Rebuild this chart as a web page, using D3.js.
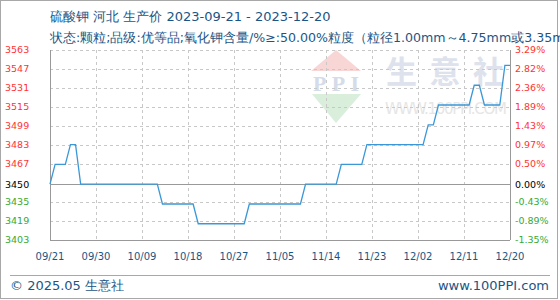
<!DOCTYPE html>
<html>
<head>
<meta charset="utf-8">
<script src="https://cdn.jsdelivr.net/npm/d3@7"></script>
<style>
    body { margin: 0; background: #fff; }
    .chart text { font-family: "DejaVu Sans", sans-serif; }
</style>
</head>
<body>
<div class="chart"></div>
<script>
// Chart data
const TITLE = "硫酸钾 河北 生产价 2023-09-21 - 2023-12-20";
const SUBTITLE = "状态:颗粒;品级:优等品;氧化钾含量/%≥:50.00%粒度（粒径1.00mm～4.75mm或3.35mm～5.60mm）≥90%";
const START_DATE = "2023-09-21";
const BASE_PRICE = 3450;

// one value per day, 09/21 .. 12/20
const prices = [
    3450, 3466.67, 3466.67, 3466.67, 3483.33, 3483.33, 3450, 3450, 3450, 3450,
    3450, 3450, 3450, 3450, 3450, 3450, 3450, 3450, 3450, 3450,
    3450, 3450, 3433.33, 3433.33, 3433.33, 3433.33, 3433.33, 3433.33, 3433.33, 3416.67,
    3416.67, 3416.67, 3416.67, 3416.67, 3416.67, 3416.67, 3416.67, 3416.67, 3416.67, 3433.33,
    3433.33, 3433.33, 3433.33, 3433.33, 3433.33, 3433.33, 3433.33, 3433.33, 3433.33, 3433.33,
    3450, 3450, 3450, 3450, 3450, 3450, 3450, 3466.67, 3466.67, 3466.67,
    3466.67, 3466.67, 3483.33, 3483.33, 3483.33, 3483.33, 3483.33, 3483.33, 3483.33, 3483.33,
    3483.33, 3483.33, 3483.33, 3483.33, 3500, 3500, 3516.67, 3516.67, 3516.67, 3516.67,
    3516.67, 3516.67, 3516.67, 3533.33, 3533.33, 3516.67, 3516.67, 3516.67, 3516.67, 3550,
    3550
];

const xTickLabels = ["09/21", "09/30", "10/09", "10/18", "10/27", "11/05", "11/14", "11/23", "12/02", "12/11", "12/20"];
const priceTicks = [3403, 3419, 3435, 3450, 3467, 3483, 3499, 3515, 3531, 3547, 3563];
const pctTicks = ["-1.35%", "-0.89%", "-0.43%", "0.00%", "0.50%", "0.97%", "1.43%", "1.89%", "2.36%", "2.82%", "3.29%"];

// Constants
const WIDTH = 560;
const HEIGHT = 300;
const PLOT = { left: 50, right: 510, top: 50, bottom: 240 };
const RED = "#ff3333";
const GREEN = "#33aa33";
const BLUE_TEXT = "#1b5585";

const parseDay = d3.timeParse("%Y-%m-%d");
const parseTick = d3.timeParse("%Y/%m/%d");
const start = parseDay(START_DATE);
const series = prices.map((v, i) => ({ date: d3.timeDay.offset(start, i), value: v }));
const tickDates = xTickLabels.map(l => parseTick("2023/" + l));

const svg = d3.select(".chart")
    .append("svg")
        .attr("width", WIDTH)
        .attr("height", HEIGHT);

// Scales
const x = d3.scaleTime()
    .domain(d3.extent(series, d => d.date))
    .range([PLOT.left, PLOT.right]);
const y = d3.scaleLinear()
    .domain([priceTicks[0], priceTicks[priceTicks.length - 1]])
    .range([PLOT.bottom, PLOT.top]);

const labelColor = v => v > BASE_PRICE ? RED : (v < BASE_PRICE ? GREEN : "#000");

// Outer frame
svg.append("rect")
    .attr("x", 0.5).attr("y", 0.5)
    .attr("width", 557).attr("height", 298)
    .attr("fill", "none")
    .attr("stroke", "#a8a8a8");

// Titles
svg.append("text")
    .text(TITLE)
    .attr("x", 50).attr("y", 21)
    .attr("fill", BLUE_TEXT)
    .style("font-size", "13px");
// the subtitle runs past the right edge, as in the original
svg.append("text")
    .text(SUBTITLE)
    .attr("x", 50).attr("y", 42)
    .attr("fill", BLUE_TEXT)
    .style("font-size", "12.6px");

// Watermark
const wm = svg.append("g").attr("class", "watermark");
wm.append("polygon")
    .attr("points", "336,50 311,71 361,71")
    .attr("fill", "#f9d6d6");
wm.append("text")
    .text("PPI")
    .attr("x", 336).attr("y", 91)
    .attr("text-anchor", "middle")
    .attr("textLength", 46)
    .attr("fill", "#d4dbe9")
    .style("font-family", "'Liberation Serif', serif")
    .style("font-weight", "bold")
    .style("font-size", "22px");
wm.append("polygon")
    .attr("points", "312,94 361,94 336,123")
    .attr("fill", "#d9efdc");
wm.append("text")
    .text("生意社")
    .attr("x", 386).attr("y", 83)
    .attr("textLength", 118)
    .attr("fill", "#dde2ec")
    .style("font-family", "'Noto Sans CJK SC', sans-serif")
    .style("font-weight", "bold")
    .style("font-size", "31px");
wm.append("text")
    .text("WWW.100PPI.COM")
    .attr("x", 385).attr("y", 114)
    .attr("textLength", 122)
    .attr("fill", "#e6e6e6")
    .style("font-size", "15px");

// Grid
svg.append("g")
    .selectAll("line")
    .data(priceTicks.filter(v => v !== BASE_PRICE && v !== priceTicks[0]))
    .join("line")
        .attr("x1", PLOT.left).attr("x2", PLOT.right)
        .attr("y1", d => Math.round(y(d)) + 0.5).attr("y2", d => Math.round(y(d)) + 0.5)
        .attr("stroke", "#c8c8c8")
        .attr("stroke-dasharray", "3,3");
svg.append("g")
    .selectAll("line")
    .data(tickDates.slice(1, -1))
    .join("line")
        .attr("x1", d => Math.round(x(d)) + 0.5).attr("x2", d => Math.round(x(d)) + 0.5)
        .attr("y1", PLOT.top).attr("y2", PLOT.bottom)
        .attr("stroke", "#c8c8c8")
        .attr("stroke-dasharray", "3,3");

// Axes lines
const axisG = svg.append("g").attr("stroke", "#999").attr("shape-rendering", "crispEdges");
axisG.append("line")
    .attr("x1", PLOT.left + 0.5).attr("x2", PLOT.left + 0.5)
    .attr("y1", PLOT.top).attr("y2", PLOT.bottom);
axisG.append("line")
    .attr("x1", PLOT.right + 0.5).attr("x2", PLOT.right + 0.5)
    .attr("y1", PLOT.top).attr("y2", PLOT.bottom);
axisG.append("line")
    .attr("x1", PLOT.left).attr("x2", PLOT.right)
    .attr("y1", Math.round(y(priceTicks[0])) + 0.5).attr("y2", Math.round(y(priceTicks[0])) + 0.5);
axisG.append("line")
    .attr("x1", PLOT.left).attr("x2", PLOT.right)
    .attr("y1", Math.round(y(BASE_PRICE)) + 0.5).attr("y2", Math.round(y(BASE_PRICE)) + 0.5);

// Y labels
svg.append("g")
    .selectAll("text")
    .data(priceTicks)
    .join("text")
        .text(d => d)
        .attr("x", 5)
        .attr("y", d => y(d))
        .attr("dy", "0.36em")
        .attr("fill", labelColor)
        .style("font-size", "9.5px");
svg.append("g")
    .selectAll("text")
    .data(priceTicks)
    .join("text")
        .text((d, i) => pctTicks[i])
        .attr("x", 515)
        .attr("y", d => y(d))
        .attr("dy", "0.36em")
        .attr("fill", labelColor)
        .style("font-size", "9.5px");

// X labels
svg.append("g")
    .selectAll("text")
    .data(tickDates)
    .join("text")
        .text((d, i) => xTickLabels[i])
        .attr("x", d => x(d))
        .attr("y", 260)
        .attr("text-anchor", "middle")
        .attr("fill", BLUE_TEXT)
        .style("font-size", "10px");

// Price line
const line = d3.line()
    .x(d => x(d.date))
    .y(d => y(d.value));
svg.append("path")
    .datum(series)
    .attr("d", line)
    .attr("fill", "none")
    .attr("stroke", "#3a98d8")
    .attr("stroke-width", 1.3);

// Footer
svg.append("line")
    .attr("x1", 10).attr("x2", 550)
    .attr("y1", 275.5).attr("y2", 275.5)
    .attr("stroke", "#a8a8a8");
svg.append("text")
    .text("© 2025.05 生意社")
    .attr("x", 10).attr("y", 290)
    .attr("fill", BLUE_TEXT)
    .style("font-size", "13px");
svg.append("text")
    .text("www.100PPI.com")
    .attr("x", 549).attr("y", 290)
    .attr("text-anchor", "end")
    .attr("fill", BLUE_TEXT)
    .style("font-size", "13px");
</script>
</body>
</html>
